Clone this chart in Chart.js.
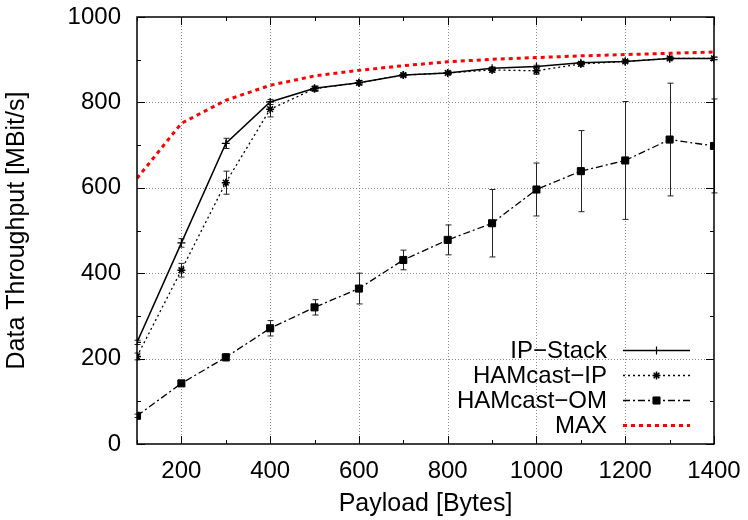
<!DOCTYPE html>
<html>
<head>
  <title>Data Throughput</title>
  <script src="https://cdn.jsdelivr.net/npm/chart.js"></script>
  <style>
    body { margin: 0; background: white; }
    #wrap { width: 748px; height: 520px; }
  </style>
</head>
<body>
  <div id="wrap"><canvas id="chart"></canvas></div>

  <script>
    const payload = [100, 200, 300, 400, 500, 600, 700, 800, 900, 1000, 1100, 1200, 1300, 1400];

    const ipStack    = [238, 471, 704, 801, 833, 846, 864, 869, 880, 884, 893, 896, 903, 903];
    const ipStackErr = [5, 10, 12, 6, 5, 5, 4, 3, 3, 3, 3, 3, 3, 3];

    const hamIp    = [205, 407, 612, 784, 832, 846, 864, 869, 876, 874, 890, 896, 903, 903];
    const hamIpErr = [8, 16, 27, 18, 6, 5, 4, 4, 5, 8, 5, 3, 3, 3];

    const hamOm    = [66, 142, 203, 271, 320, 364, 431, 478, 517, 596, 639, 664, 713, 698];
    const hamOmErr = [4, 6, 8, 18, 18, 36, 23, 35, 79, 62, 95, 138, 132, 110];

    const maxRate = [622, 751, 805, 840, 862, 875, 886, 895, 901, 905, 909, 912, 915, 918];

    const FONT = "'Liberation Sans', Arial, Helvetica, sans-serif";

    function pts(ys) {
      return payload.map((x, i) => ({ x: x, y: ys[i] }));
    }

    // dotted grid at the labelled ticks, drawn under the data
    const grid = {
      id: "dotGrid",
      beforeDatasetsDraw(chart) {
        const { ctx, chartArea: a, scales } = chart;
        ctx.save();
        ctx.strokeStyle = "#8a8a8a";
        ctx.lineWidth = 1;
        ctx.setLineDash([1, 2]);
        scales.x.ticks.forEach(t => {
          if (t.value % 200 !== 0 || t.value >= 1400) return;
          const px = Math.round(scales.x.getPixelForValue(t.value)) + 0.5;
          ctx.beginPath(); ctx.moveTo(px, a.bottom); ctx.lineTo(px, a.top); ctx.stroke();
        });
        scales.y.ticks.forEach(t => {
          if (t.value % 200 !== 0 || t.value <= 0 || t.value >= 1000) return;
          const py = Math.round(scales.y.getPixelForValue(t.value)) + 0.5;
          ctx.beginPath(); ctx.moveTo(a.left, py); ctx.lineTo(a.right, py); ctx.stroke();
        });
        ctx.restore();
      }
    };

    // box round the plot + inward tick marks like gnuplot
    const frame = {
      id: "frame",
      afterDatasetsDraw(chart) {
        const { ctx, chartArea: a, scales } = chart;
        ctx.save();
        ctx.strokeStyle = "#000";
        ctx.lineWidth = 1;
        scales.x.ticks.forEach(t => {
          const px = Math.round(scales.x.getPixelForValue(t.value)) + 0.5;
          const len = t.value % 200 === 0 ? 8 : 4;
          ctx.beginPath();
          ctx.moveTo(px, a.bottom); ctx.lineTo(px, a.bottom - len);
          ctx.moveTo(px, a.top); ctx.lineTo(px, a.top + len);
          ctx.stroke();
        });
        scales.y.ticks.forEach(t => {
          const py = Math.round(scales.y.getPixelForValue(t.value)) + 0.5;
          const len = t.value % 200 === 0 ? 8 : 4;
          ctx.beginPath();
          ctx.moveTo(a.left, py); ctx.lineTo(a.left + len, py);
          ctx.moveTo(a.right, py); ctx.lineTo(a.right - len, py);
          ctx.stroke();
        });
        ctx.lineWidth = 1.5;
        ctx.strokeRect(a.left, a.top, a.right - a.left, a.bottom - a.top);
        ctx.restore();
      }
    };

    // vertical error bars from each dataset's err array
    const errorBars = {
      id: "errorBars",
      beforeDatasetsDraw(chart) {
        const { ctx, scales } = chart;
        ctx.save();
        chart.data.datasets.forEach(ds => {
          if (!ds.err) return;
          ctx.strokeStyle = "#222";
          ctx.lineWidth = 1;
          ds.data.forEach((p, i) => {
            const x = Math.round(scales.x.getPixelForValue(p.x)) + 0.5;
            const yHi = scales.y.getPixelForValue(p.y + ds.err[i]);
            const yLo = scales.y.getPixelForValue(p.y - ds.err[i]);
            ctx.beginPath();
            ctx.moveTo(x, yHi); ctx.lineTo(x, yLo);
            ctx.moveTo(x - 3, yHi); ctx.lineTo(x + 3, yHi);
            ctx.moveTo(x - 3, yLo); ctx.lineTo(x + 3, yLo);
            ctx.stroke();
          });
        });
        ctx.restore();
      }
    };

    // key inside the plot, bottom right, text right aligned before the sample
    const key = {
      id: "key",
      afterDraw(chart) {
        const { ctx } = chart;
        const textRight = 607, lineL = 623, lineR = 690;
        const rowY = [350, 375, 400, 425];
        ctx.save();
        ctx.font = "24px " + FONT;
        ctx.textAlign = "right";
        ctx.textBaseline = "middle";
        chart.data.datasets.forEach((ds, i) => {
          const y = rowY[i];
          ctx.fillStyle = "#000";
          ctx.fillText(ds.label, textRight, y + 1);
          ctx.strokeStyle = ds.borderColor;
          ctx.lineWidth = ds.borderWidth;
          ctx.setLineDash(ds.borderDash || []);
          ctx.beginPath();
          ctx.moveTo(lineL, y + 0.5); ctx.lineTo(lineR, y + 0.5);
          ctx.stroke();
          ctx.setLineDash([]);
          if (ds.pointRadius > 0) {
            ctx.fillStyle = ds.pointBackgroundColor;
            ctx.strokeStyle = ds.pointBorderColor;
            ctx.lineWidth = ds.pointBorderWidth;
            Chart.helpers.drawPoint(ctx, {
              pointStyle: ds.pointStyle, radius: ds.pointRadius,
              borderWidth: ds.pointBorderWidth, rotation: 0
            }, (lineL + lineR) / 2, y + 0.5);
          }
        });
        ctx.restore();
      }
    };

    new Chart(document.getElementById("chart"), {
      type: "line",
      data: {
        datasets: [
          {
            label: "IP\u2212Stack",
            data: pts(ipStack),
            err: ipStackErr,
            borderColor: "#000",
            borderWidth: 1.5,
            pointStyle: "cross",
            pointRadius: 4,
            pointBorderWidth: 1.2,
            pointBackgroundColor: "#000",
            pointBorderColor: "#000"
          },
          {
            label: "HAMcast\u2212IP",
            data: pts(hamIp),
            err: hamIpErr,
            borderColor: "#000",
            borderWidth: 1.3,
            borderDash: [2, 3],
            pointStyle: "star",
            pointRadius: 4,
            pointBorderWidth: 1.5,
            pointBackgroundColor: "#000",
            pointBorderColor: "#000"
          },
          {
            label: "HAMcast\u2212OM",
            data: pts(hamOm),
            err: hamOmErr,
            borderColor: "#000",
            borderWidth: 1.3,
            borderDash: [7, 3, 2, 3],
            pointStyle: "rect",
            pointRadius: 5,
            pointBorderWidth: 1,
            pointBackgroundColor: "#000",
            pointBorderColor: "#000"
          },
          {
            label: "MAX",
            data: pts(maxRate),
            borderColor: "#ff0000",
            borderWidth: 3,
            borderDash: [4, 4],
            pointRadius: 0,
            pointBorderWidth: 0,
            pointBackgroundColor: "#ff0000",
            pointBorderColor: "#ff0000"
          }
        ]
      },
      options: {
        responsive: true,
        maintainAspectRatio: false,
        animation: false,
        events: [],
        layout: { padding: { top: 17, right: 34, left: 0, bottom: 0 } },
        elements: { line: { tension: 0, fill: false } },
        plugins: {
          legend: { display: false },
          tooltip: { enabled: false }
        },
        scales: {
          x: {
            type: "linear",
            min: 100,
            max: 1400,
            afterFit: s => { s.height = 76; s.paddingLeft = 0; s.paddingRight = 0; },
            border: { display: false },
            grid: { display: false, drawTicks: false },
            ticks: {
              stepSize: 100,
              autoSkip: false,
              maxRotation: 0,
              padding: 13,
              color: "#000",
              font: { family: FONT, size: 24 },
              callback: v => (v % 200 === 0 ? v : "")
            },
            title: {
              display: true,
              text: "Payload [Bytes]",
              color: "#000",
              font: { family: FONT, size: 25 },
              padding: { top: 0, bottom: 1 }
            }
          },
          y: {
            min: 0,
            max: 1000,
            afterFit: s => { s.width = 137; s.paddingTop = 0; s.paddingBottom = 0; },
            border: { display: false },
            grid: { display: false, drawTicks: false },
            ticks: {
              stepSize: 100,
              autoSkip: false,
              padding: 16,
              color: "#000",
              font: { family: FONT, size: 24 },
              callback: v => (v % 200 === 0 ? v : "")
            },
            title: {
              display: true,
              text: "Data Throughput [MBit/s]",
              color: "#000",
              font: { family: FONT, size: 25 },
              padding: { top: 2, bottom: 4 }
            }
          }
        }
      },
      plugins: [grid, errorBars, frame, key]
    });
  </script>
</body>
</html>
